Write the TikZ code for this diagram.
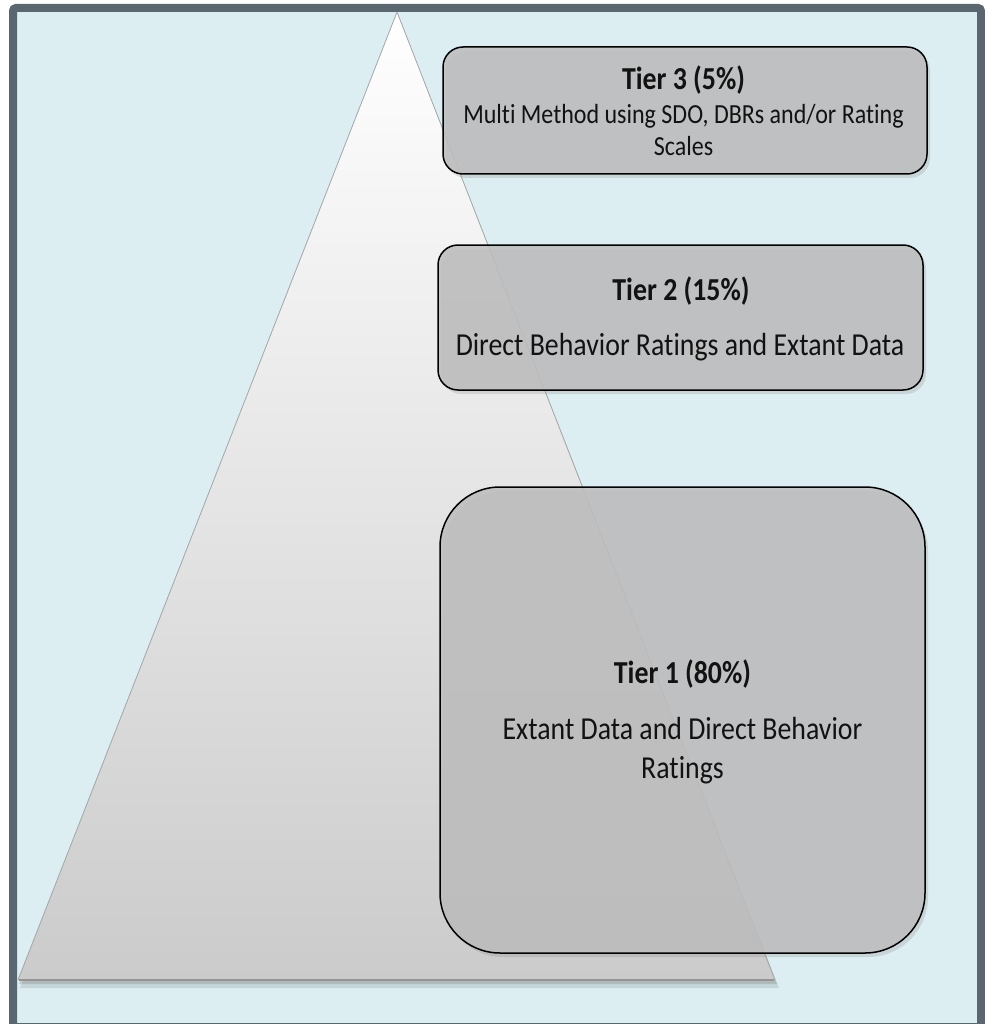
\documentclass[tikz,border=0pt]{standalone}
\usepackage{fontspec}
\setmainfont{Carlito}[FakeStretch=0.87, Ligatures={NoCommon}]
\usetikzlibrary{shadows}
\definecolor{bg}{RGB}{220,238,241}
\definecolor{framec}{RGB}{91,103,112}
\definecolor{boxfill}{RGB}{190,190,191}
\definecolor{tribot}{RGB}{203,203,203}
\definecolor{triedge}{RGB}{165,165,165}
\definecolor{txt}{RGB}{18,18,18}
\tikzset{
  tierbox/.style={draw=black, line width=1.5pt, fill=boxfill, fill opacity=0.88,
    drop shadow={opacity=0.22, shadow xshift=3pt, shadow yshift=-4pt}},
  ttl/.style={font=\fontsize{32}{36}\selectfont\bfseries, anchor=base, text=txt, inner sep=0pt},
  bdysmall/.style={font=\fontsize{27.6}{32}\selectfont, anchor=base, text=txt, inner sep=0pt},
  bdy/.style={font=\fontsize{32}{38}\selectfont, anchor=base, text=txt, inner sep=0pt}
}
\begin{document}
\begin{tikzpicture}[x=1pt,y=-1pt]
\useasboundingbox (0,0) rectangle (984,1024);
\fill[white] (0,0) rectangle (984,1024);
\draw[framec, line width=8pt, fill=bg, rounded corners=3pt] (13,8) rectangle (981,1027);
% pyramid
\coordinate (apex) at (397,12);
\coordinate (bl) at (18,980);
\coordinate (br) at (775,980);
\fill[black, opacity=0.10] (399,18) -- (20,988) -- (779,988) -- cycle;
\fill[black, opacity=0.12] (398,15) -- (19,984) -- (777,984) -- cycle;
\shade[top color=white, bottom color=tribot] (apex) -- (bl) -- (br) -- cycle;
\draw[triedge, line width=0.8pt, line join=round] (bl) -- (apex) -- (br);
\draw[black!42, line width=2.5pt] ([xshift=1pt]bl) -- ([xshift=-1pt]br);
% boxes
\node[tierbox, rounded corners=20pt, minimum width=484pt, minimum height=127pt] (t3) at (685,110.5) {};
\node[tierbox, rounded corners=20pt, minimum width=485pt, minimum height=145pt] (t2) at (680.5,317.5) {};
\node[tierbox, rounded corners=60pt, minimum width=485pt, minimum height=466pt] (t1) at (682.5,720) {};
% texts
\node[ttl] (t3title) at (683.5,90) {Tier 3 (5\%)};
\node[bdysmall] (t3l1) at (683.5,124) {Multi Method using SDO, DBRs and/or Rating};
\node[bdysmall] (t3l2) at (683.5,156) {Scales};
\node[ttl] (t2title) at (681,300) {Tier 2 (15\%)};
\node[bdy] (t2l1) at (680,355) {Direct Behavior Ratings and Extant Data};
\node[ttl] (t1title) at (682.5,683) {Tier 1 (80\%)};
\node[bdy] (t1l1) at (682.5,739) {Extant Data and Direct Behavior};
\node[bdy] (t1l2) at (682.5,778) {Ratings};
\end{tikzpicture}
\end{document}
